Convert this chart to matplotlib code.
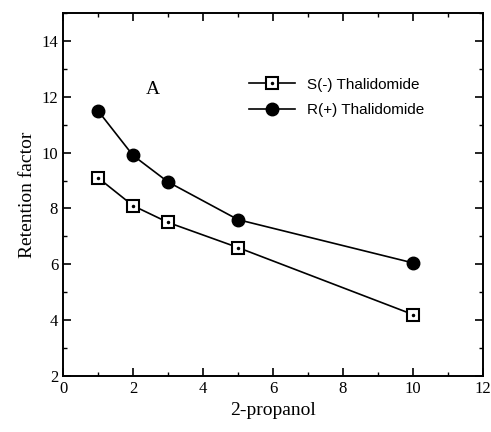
import matplotlib
matplotlib.use('Agg')
import matplotlib.pyplot as plt
from matplotlib.ticker import MultipleLocator
from matplotlib.lines import Line2D

propanol = [1, 2, 3, 5, 10]
s_thal = [9.1, 8.1, 7.5, 6.6, 4.2]
r_thal = [11.5, 9.9, 8.95, 7.6, 6.05]

plt.rcParams['font.family'] = 'Liberation Serif'

fig = plt.figure(figsize=(4.91, 4.32), dpi=100)
ax = fig.add_axes([63/491, 1 - 376/432, 420/491, 363/432])

ax.plot(propanol, s_thal, '-', color='black', lw=1.2, marker='s', ms=8,
        mfc='white', mec='black', mew=1.5, label='S(-) Thalidomide')
ax.plot(propanol, s_thal, 'k.', ms=3)  # dot inside the square
ax.plot(propanol, r_thal, '-', color='black', lw=1.2, marker='o', ms=9,
        mfc='black', mec='black', label='R(+) Thalidomide')

ax.set_xlim(0, 12)
ax.set_ylim(2, 15)
ax.set_xticks(range(0, 13, 2))
ax.set_yticks(range(2, 15, 2))
ax.xaxis.set_minor_locator(MultipleLocator(1))
ax.yaxis.set_minor_locator(MultipleLocator(1))
ax.tick_params(which='both', direction='in', top=True, right=True, labelsize=12)
ax.tick_params(which='major', length=6, width=1.2)
ax.tick_params(which='minor', length=3, width=1)
for s in ax.spines.values():
    s.set_linewidth(1.4)

ax.set_xlabel('2-propanol', fontsize=14)
ax.set_ylabel('Retention factor', fontsize=14)
ax.text(2.57, 12.27, 'A', fontsize=14, ha='center', va='center')

h_s = (Line2D([], [], color='black', lw=1.2, marker='s', ms=8, mfc='white', mec='black', mew=1.5),
       Line2D([], [], color='black', ls='none', marker='.', ms=3))
h_r = Line2D([], [], color='black', lw=1.2, marker='o', ms=9, mfc='black')
ax.legend([h_s, h_r], ['S(-) Thalidomide', 'R(+) Thalidomide'],
          loc='upper left', bbox_to_anchor=(0.41, 0.86), frameon=False,
          prop={'family': 'Liberation Sans', 'size': 11}, handlelength=3,
          labelspacing=0.75)

fig.savefig('out.png', dpi=100)
